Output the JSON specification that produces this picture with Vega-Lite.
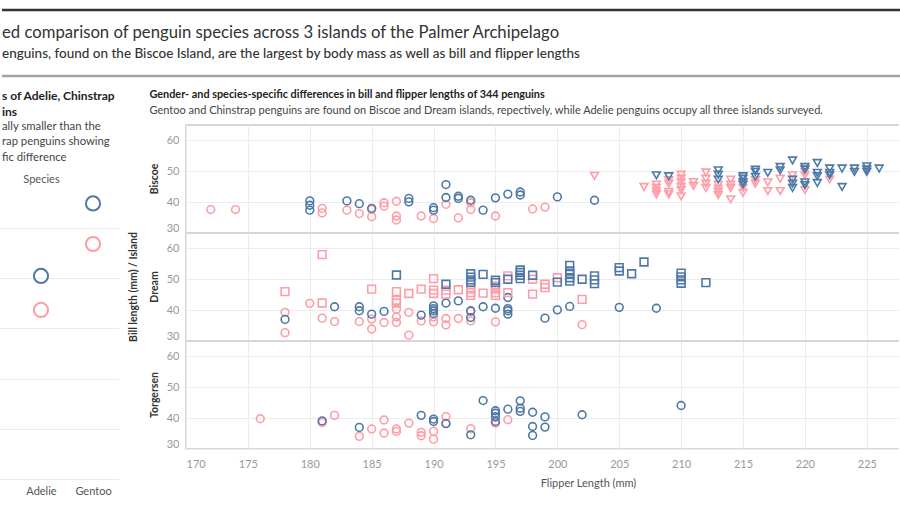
{
  "$schema": "https://vega.github.io/schema/vega-lite/v6.json",
  "background": "white",
  "padding": {"left": 0, "top": 8, "right": 0, "bottom": 0},
  "config": {
    "font": "Lato",
    "view": {"stroke": null},
    "title": {"font": "Lato", "subtitleFont": "Lato"},
    "axis": {"labelFont": "Lato", "titleFont": "Lato"},
    "header": {"labelFont": "Lato", "titleFont": "Lato"}
  },
  "resolve": {"scale": {"color": "independent"}},
  "datasets": {
    "frame": [{"line": "upper rule"}, {"line": "lower rule"}],
    "bodymass": [
      {"species": "Adelie", "sex": "female", "body_mass": 3367},
      {"species": "Adelie", "sex": "male", "body_mass": 4044},
      {"species": "Chinstrap", "sex": "female", "body_mass": 3527},
      {"species": "Chinstrap", "sex": "male", "body_mass": 3939},
      {"species": "Gentoo", "sex": "female", "body_mass": 4681},
      {"species": "Gentoo", "sex": "male", "body_mass": 5488}
    ],
    "penguins": [
      {"island":"Biscoe","species":"Adelie","sex":"female","flipper":172,"bill":37.6},
      {"island":"Biscoe","species":"Adelie","sex":"female","flipper":174,"bill":37.6},
      {"island":"Biscoe","species":"Adelie","sex":"female","flipper":181,"bill":38.0},
      {"island":"Biscoe","species":"Adelie","sex":"female","flipper":181,"bill":36.5},
      {"island":"Biscoe","species":"Adelie","sex":"female","flipper":183,"bill":37.4},
      {"island":"Biscoe","species":"Adelie","sex":"female","flipper":184,"bill":36.3},
      {"island":"Biscoe","species":"Adelie","sex":"female","flipper":185,"bill":37.6},
      {"island":"Biscoe","species":"Adelie","sex":"female","flipper":185,"bill":35.3},
      {"island":"Biscoe","species":"Adelie","sex":"female","flipper":186,"bill":39.8},
      {"island":"Biscoe","species":"Adelie","sex":"female","flipper":186,"bill":38.7},
      {"island":"Biscoe","species":"Adelie","sex":"female","flipper":187,"bill":40.3},
      {"island":"Biscoe","species":"Adelie","sex":"female","flipper":187,"bill":35.5},
      {"island":"Biscoe","species":"Adelie","sex":"female","flipper":187,"bill":34.2},
      {"island":"Biscoe","species":"Adelie","sex":"female","flipper":189,"bill":35.5},
      {"island":"Biscoe","species":"Adelie","sex":"female","flipper":190,"bill":34.7},
      {"island":"Biscoe","species":"Adelie","sex":"female","flipper":191,"bill":39.3},
      {"island":"Biscoe","species":"Adelie","sex":"female","flipper":192,"bill":34.9},
      {"island":"Biscoe","species":"Adelie","sex":"female","flipper":193,"bill":39.8},
      {"island":"Biscoe","species":"Adelie","sex":"female","flipper":193,"bill":37.6},
      {"island":"Biscoe","species":"Adelie","sex":"female","flipper":195,"bill":35.5},
      {"island":"Biscoe","species":"Adelie","sex":"female","flipper":198,"bill":37.8},
      {"island":"Biscoe","species":"Adelie","sex":"female","flipper":199,"bill":38.4},
      {"island":"Biscoe","species":"Adelie","sex":"male","flipper":180,"bill":40.4},
      {"island":"Biscoe","species":"Adelie","sex":"male","flipper":180,"bill":39.0},
      {"island":"Biscoe","species":"Adelie","sex":"male","flipper":180,"bill":37.4},
      {"island":"Biscoe","species":"Adelie","sex":"male","flipper":183,"bill":40.4},
      {"island":"Biscoe","species":"Adelie","sex":"male","flipper":184,"bill":39.5},
      {"island":"Biscoe","species":"Adelie","sex":"male","flipper":185,"bill":38.0},
      {"island":"Biscoe","species":"Adelie","sex":"male","flipper":188,"bill":41.2},
      {"island":"Biscoe","species":"Adelie","sex":"male","flipper":188,"bill":40.1},
      {"island":"Biscoe","species":"Adelie","sex":"male","flipper":190,"bill":38.2},
      {"island":"Biscoe","species":"Adelie","sex":"male","flipper":190,"bill":37.4},
      {"island":"Biscoe","species":"Adelie","sex":"male","flipper":191,"bill":45.7},
      {"island":"Biscoe","species":"Adelie","sex":"male","flipper":191,"bill":41.5},
      {"island":"Biscoe","species":"Adelie","sex":"male","flipper":192,"bill":41.9},
      {"island":"Biscoe","species":"Adelie","sex":"male","flipper":192,"bill":41.2},
      {"island":"Biscoe","species":"Adelie","sex":"male","flipper":193,"bill":40.6},
      {"island":"Biscoe","species":"Adelie","sex":"male","flipper":194,"bill":37.4},
      {"island":"Biscoe","species":"Adelie","sex":"male","flipper":195,"bill":41.4},
      {"island":"Biscoe","species":"Adelie","sex":"male","flipper":196,"bill":42.6},
      {"island":"Biscoe","species":"Adelie","sex":"male","flipper":197,"bill":43.3},
      {"island":"Biscoe","species":"Adelie","sex":"male","flipper":197,"bill":42.3},
      {"island":"Biscoe","species":"Adelie","sex":"male","flipper":200,"bill":41.7},
      {"island":"Biscoe","species":"Adelie","sex":"male","flipper":203,"bill":40.6},
      {"island":"Biscoe","species":"Gentoo","sex":"female","flipper":203,"bill":48.5},
      {"island":"Biscoe","species":"Gentoo","sex":"female","flipper":207,"bill":44.9},
      {"island":"Biscoe","species":"Gentoo","sex":"female","flipper":208,"bill":45.7},
      {"island":"Biscoe","species":"Gentoo","sex":"female","flipper":208,"bill":44.6},
      {"island":"Biscoe","species":"Gentoo","sex":"female","flipper":208,"bill":43.5},
      {"island":"Biscoe","species":"Gentoo","sex":"female","flipper":208,"bill":42.5},
      {"island":"Biscoe","species":"Gentoo","sex":"female","flipper":209,"bill":47.1},
      {"island":"Biscoe","species":"Gentoo","sex":"female","flipper":209,"bill":46.0},
      {"island":"Biscoe","species":"Gentoo","sex":"female","flipper":209,"bill":43.3},
      {"island":"Biscoe","species":"Gentoo","sex":"female","flipper":209,"bill":42.5},
      {"island":"Biscoe","species":"Gentoo","sex":"female","flipper":210,"bill":48.9},
      {"island":"Biscoe","species":"Gentoo","sex":"female","flipper":210,"bill":47.6},
      {"island":"Biscoe","species":"Gentoo","sex":"female","flipper":210,"bill":46.4},
      {"island":"Biscoe","species":"Gentoo","sex":"female","flipper":210,"bill":44.9},
      {"island":"Biscoe","species":"Gentoo","sex":"female","flipper":210,"bill":43.9},
      {"island":"Biscoe","species":"Gentoo","sex":"female","flipper":210,"bill":41.9},
      {"island":"Biscoe","species":"Gentoo","sex":"female","flipper":211,"bill":46.5},
      {"island":"Biscoe","species":"Gentoo","sex":"female","flipper":211,"bill":45.3},
      {"island":"Biscoe","species":"Gentoo","sex":"female","flipper":212,"bill":49.6},
      {"island":"Biscoe","species":"Gentoo","sex":"female","flipper":212,"bill":47.6},
      {"island":"Biscoe","species":"Gentoo","sex":"female","flipper":212,"bill":46.0},
      {"island":"Biscoe","species":"Gentoo","sex":"female","flipper":212,"bill":44.6},
      {"island":"Biscoe","species":"Gentoo","sex":"female","flipper":213,"bill":45.7},
      {"island":"Biscoe","species":"Gentoo","sex":"female","flipper":213,"bill":44.4},
      {"island":"Biscoe","species":"Gentoo","sex":"female","flipper":213,"bill":43.3},
      {"island":"Biscoe","species":"Gentoo","sex":"female","flipper":213,"bill":42.3},
      {"island":"Biscoe","species":"Gentoo","sex":"female","flipper":214,"bill":47.3},
      {"island":"Biscoe","species":"Gentoo","sex":"female","flipper":214,"bill":45.7},
      {"island":"Biscoe","species":"Gentoo","sex":"female","flipper":214,"bill":44.6},
      {"island":"Biscoe","species":"Gentoo","sex":"female","flipper":214,"bill":40.9},
      {"island":"Biscoe","species":"Gentoo","sex":"female","flipper":215,"bill":44.6},
      {"island":"Biscoe","species":"Gentoo","sex":"female","flipper":215,"bill":43.0},
      {"island":"Biscoe","species":"Gentoo","sex":"female","flipper":216,"bill":47.1},
      {"island":"Biscoe","species":"Gentoo","sex":"female","flipper":216,"bill":46.0},
      {"island":"Biscoe","species":"Gentoo","sex":"female","flipper":217,"bill":46.4},
      {"island":"Biscoe","species":"Gentoo","sex":"female","flipper":217,"bill":43.6},
      {"island":"Biscoe","species":"Gentoo","sex":"female","flipper":218,"bill":47.6},
      {"island":"Biscoe","species":"Gentoo","sex":"female","flipper":218,"bill":43.6},
      {"island":"Biscoe","species":"Gentoo","sex":"female","flipper":219,"bill":48.7},
      {"island":"Biscoe","species":"Gentoo","sex":"female","flipper":220,"bill":49.8},
      {"island":"Biscoe","species":"Gentoo","sex":"female","flipper":220,"bill":48.7},
      {"island":"Biscoe","species":"Gentoo","sex":"female","flipper":220,"bill":43.9},
      {"island":"Biscoe","species":"Gentoo","sex":"female","flipper":222,"bill":47.3},
      {"island":"Biscoe","species":"Gentoo","sex":"male","flipper":208,"bill":48.7},
      {"island":"Biscoe","species":"Gentoo","sex":"male","flipper":209,"bill":48.4},
      {"island":"Biscoe","species":"Gentoo","sex":"male","flipper":213,"bill":50.3},
      {"island":"Biscoe","species":"Gentoo","sex":"male","flipper":213,"bill":48.9},
      {"island":"Biscoe","species":"Gentoo","sex":"male","flipper":213,"bill":47.3},
      {"island":"Biscoe","species":"Gentoo","sex":"male","flipper":215,"bill":48.4},
      {"island":"Biscoe","species":"Gentoo","sex":"male","flipper":215,"bill":47.6},
      {"island":"Biscoe","species":"Gentoo","sex":"male","flipper":215,"bill":46.5},
      {"island":"Biscoe","species":"Gentoo","sex":"male","flipper":215,"bill":45.7},
      {"island":"Biscoe","species":"Gentoo","sex":"male","flipper":216,"bill":50.5},
      {"island":"Biscoe","species":"Gentoo","sex":"male","flipper":216,"bill":49.8},
      {"island":"Biscoe","species":"Gentoo","sex":"male","flipper":216,"bill":48.2},
      {"island":"Biscoe","species":"Gentoo","sex":"male","flipper":217,"bill":49.5},
      {"island":"Biscoe","species":"Gentoo","sex":"male","flipper":218,"bill":51.4},
      {"island":"Biscoe","species":"Gentoo","sex":"male","flipper":218,"bill":50.3},
      {"island":"Biscoe","species":"Gentoo","sex":"male","flipper":219,"bill":53.5},
      {"island":"Biscoe","species":"Gentoo","sex":"male","flipper":219,"bill":47.3},
      {"island":"Biscoe","species":"Gentoo","sex":"male","flipper":219,"bill":46.0},
      {"island":"Biscoe","species":"Gentoo","sex":"male","flipper":219,"bill":44.6},
      {"island":"Biscoe","species":"Gentoo","sex":"male","flipper":220,"bill":51.4},
      {"island":"Biscoe","species":"Gentoo","sex":"male","flipper":220,"bill":50.6},
      {"island":"Biscoe","species":"Gentoo","sex":"male","flipper":220,"bill":46.4},
      {"island":"Biscoe","species":"Gentoo","sex":"male","flipper":220,"bill":45.5},
      {"island":"Biscoe","species":"Gentoo","sex":"male","flipper":221,"bill":52.7},
      {"island":"Biscoe","species":"Gentoo","sex":"male","flipper":221,"bill":49.5},
      {"island":"Biscoe","species":"Gentoo","sex":"male","flipper":221,"bill":48.4},
      {"island":"Biscoe","species":"Gentoo","sex":"male","flipper":221,"bill":46.2},
      {"island":"Biscoe","species":"Gentoo","sex":"male","flipper":222,"bill":50.9},
      {"island":"Biscoe","species":"Gentoo","sex":"male","flipper":222,"bill":49.5},
      {"island":"Biscoe","species":"Gentoo","sex":"male","flipper":222,"bill":48.7},
      {"island":"Biscoe","species":"Gentoo","sex":"male","flipper":223,"bill":50.9},
      {"island":"Biscoe","species":"Gentoo","sex":"male","flipper":223,"bill":44.9},
      {"island":"Biscoe","species":"Gentoo","sex":"male","flipper":224,"bill":50.9},
      {"island":"Biscoe","species":"Gentoo","sex":"male","flipper":224,"bill":49.8},
      {"island":"Biscoe","species":"Gentoo","sex":"male","flipper":225,"bill":51.6},
      {"island":"Biscoe","species":"Gentoo","sex":"male","flipper":225,"bill":50.6},
      {"island":"Biscoe","species":"Gentoo","sex":"male","flipper":225,"bill":49.8},
      {"island":"Biscoe","species":"Gentoo","sex":"male","flipper":226,"bill":50.9},
      {"island":"Dream","species":"Adelie","sex":"female","flipper":178,"bill":39.3},
      {"island":"Dream","species":"Adelie","sex":"female","flipper":178,"bill":32.7},
      {"island":"Dream","species":"Adelie","sex":"female","flipper":180,"bill":42.2},
      {"island":"Dream","species":"Adelie","sex":"female","flipper":181,"bill":37.4},
      {"island":"Dream","species":"Adelie","sex":"female","flipper":182,"bill":36.3},
      {"island":"Dream","species":"Adelie","sex":"female","flipper":184,"bill":36.3},
      {"island":"Dream","species":"Adelie","sex":"female","flipper":185,"bill":37.1},
      {"island":"Dream","species":"Adelie","sex":"female","flipper":185,"bill":33.9},
      {"island":"Dream","species":"Adelie","sex":"female","flipper":186,"bill":36.0},
      {"island":"Dream","species":"Adelie","sex":"female","flipper":187,"bill":40.3},
      {"island":"Dream","species":"Adelie","sex":"female","flipper":187,"bill":37.8},
      {"island":"Dream","species":"Adelie","sex":"female","flipper":187,"bill":36.0},
      {"island":"Dream","species":"Adelie","sex":"female","flipper":188,"bill":39.3},
      {"island":"Dream","species":"Adelie","sex":"female","flipper":188,"bill":31.9},
      {"island":"Dream","species":"Adelie","sex":"female","flipper":189,"bill":36.5},
      {"island":"Dream","species":"Adelie","sex":"female","flipper":190,"bill":37.8},
      {"island":"Dream","species":"Adelie","sex":"female","flipper":190,"bill":36.2},
      {"island":"Dream","species":"Adelie","sex":"female","flipper":191,"bill":37.3},
      {"island":"Dream","species":"Adelie","sex":"female","flipper":191,"bill":35.2},
      {"island":"Dream","species":"Adelie","sex":"female","flipper":192,"bill":37.3},
      {"island":"Dream","species":"Adelie","sex":"female","flipper":193,"bill":39.5},
      {"island":"Dream","species":"Adelie","sex":"female","flipper":193,"bill":36.5},
      {"island":"Dream","species":"Adelie","sex":"female","flipper":195,"bill":36.2},
      {"island":"Dream","species":"Adelie","sex":"female","flipper":202,"bill":35.3},
      {"island":"Dream","species":"Adelie","sex":"male","flipper":178,"bill":37.0},
      {"island":"Dream","species":"Adelie","sex":"male","flipper":182,"bill":41.1},
      {"island":"Dream","species":"Adelie","sex":"male","flipper":184,"bill":41.1},
      {"island":"Dream","species":"Adelie","sex":"male","flipper":184,"bill":39.8},
      {"island":"Dream","species":"Adelie","sex":"male","flipper":185,"bill":38.7},
      {"island":"Dream","species":"Adelie","sex":"male","flipper":186,"bill":39.6},
      {"island":"Dream","species":"Adelie","sex":"male","flipper":189,"bill":38.4},
      {"island":"Dream","species":"Adelie","sex":"male","flipper":190,"bill":41.4},
      {"island":"Dream","species":"Adelie","sex":"male","flipper":190,"bill":40.5},
      {"island":"Dream","species":"Adelie","sex":"male","flipper":190,"bill":39.8},
      {"island":"Dream","species":"Adelie","sex":"male","flipper":190,"bill":38.9},
      {"island":"Dream","species":"Adelie","sex":"male","flipper":191,"bill":42.3},
      {"island":"Dream","species":"Adelie","sex":"male","flipper":192,"bill":43.0},
      {"island":"Dream","species":"Adelie","sex":"male","flipper":193,"bill":39.8},
      {"island":"Dream","species":"Adelie","sex":"male","flipper":193,"bill":37.6},
      {"island":"Dream","species":"Adelie","sex":"male","flipper":194,"bill":41.1},
      {"island":"Dream","species":"Adelie","sex":"male","flipper":195,"bill":40.6},
      {"island":"Dream","species":"Adelie","sex":"male","flipper":196,"bill":44.1},
      {"island":"Dream","species":"Adelie","sex":"male","flipper":196,"bill":40.5},
      {"island":"Dream","species":"Adelie","sex":"male","flipper":196,"bill":39.8},
      {"island":"Dream","species":"Adelie","sex":"male","flipper":196,"bill":38.7},
      {"island":"Dream","species":"Adelie","sex":"male","flipper":199,"bill":37.4},
      {"island":"Dream","species":"Adelie","sex":"male","flipper":200,"bill":40.1},
      {"island":"Dream","species":"Adelie","sex":"male","flipper":201,"bill":41.2},
      {"island":"Dream","species":"Adelie","sex":"male","flipper":205,"bill":40.9},
      {"island":"Dream","species":"Adelie","sex":"male","flipper":208,"bill":40.6},
      {"island":"Dream","species":"Chinstrap","sex":"female","flipper":178,"bill":46.0},
      {"island":"Dream","species":"Chinstrap","sex":"female","flipper":181,"bill":58.0},
      {"island":"Dream","species":"Chinstrap","sex":"female","flipper":181,"bill":42.3},
      {"island":"Dream","species":"Chinstrap","sex":"female","flipper":185,"bill":46.8},
      {"island":"Dream","species":"Chinstrap","sex":"female","flipper":187,"bill":46.0},
      {"island":"Dream","species":"Chinstrap","sex":"female","flipper":187,"bill":43.2},
      {"island":"Dream","species":"Chinstrap","sex":"female","flipper":187,"bill":42.3},
      {"island":"Dream","species":"Chinstrap","sex":"female","flipper":188,"bill":45.4},
      {"island":"Dream","species":"Chinstrap","sex":"female","flipper":189,"bill":46.8},
      {"island":"Dream","species":"Chinstrap","sex":"female","flipper":190,"bill":50.2},
      {"island":"Dream","species":"Chinstrap","sex":"female","flipper":190,"bill":46.5},
      {"island":"Dream","species":"Chinstrap","sex":"female","flipper":190,"bill":45.4},
      {"island":"Dream","species":"Chinstrap","sex":"female","flipper":191,"bill":46.5},
      {"island":"Dream","species":"Chinstrap","sex":"female","flipper":191,"bill":45.2},
      {"island":"Dream","species":"Chinstrap","sex":"female","flipper":192,"bill":46.6},
      {"island":"Dream","species":"Chinstrap","sex":"female","flipper":193,"bill":46.8},
      {"island":"Dream","species":"Chinstrap","sex":"female","flipper":193,"bill":45.7},
      {"island":"Dream","species":"Chinstrap","sex":"female","flipper":193,"bill":44.8},
      {"island":"Dream","species":"Chinstrap","sex":"female","flipper":194,"bill":45.5},
      {"island":"Dream","species":"Chinstrap","sex":"female","flipper":195,"bill":47.8},
      {"island":"Dream","species":"Chinstrap","sex":"female","flipper":195,"bill":46.8},
      {"island":"Dream","species":"Chinstrap","sex":"female","flipper":195,"bill":45.7},
      {"island":"Dream","species":"Chinstrap","sex":"female","flipper":195,"bill":44.8},
      {"island":"Dream","species":"Chinstrap","sex":"female","flipper":196,"bill":51.1},
      {"island":"Dream","species":"Chinstrap","sex":"female","flipper":196,"bill":45.7},
      {"island":"Dream","species":"Chinstrap","sex":"female","flipper":198,"bill":50.0},
      {"island":"Dream","species":"Chinstrap","sex":"female","flipper":198,"bill":45.2},
      {"island":"Dream","species":"Chinstrap","sex":"female","flipper":199,"bill":48.4},
      {"island":"Dream","species":"Chinstrap","sex":"female","flipper":199,"bill":47.3},
      {"island":"Dream","species":"Chinstrap","sex":"female","flipper":200,"bill":50.5},
      {"island":"Dream","species":"Chinstrap","sex":"female","flipper":202,"bill":43.5},
      {"island":"Dream","species":"Chinstrap","sex":"male","flipper":187,"bill":51.4},
      {"island":"Dream","species":"Chinstrap","sex":"male","flipper":191,"bill":48.4},
      {"island":"Dream","species":"Chinstrap","sex":"male","flipper":193,"bill":51.8},
      {"island":"Dream","species":"Chinstrap","sex":"male","flipper":193,"bill":50.7},
      {"island":"Dream","species":"Chinstrap","sex":"male","flipper":193,"bill":49.8},
      {"island":"Dream","species":"Chinstrap","sex":"male","flipper":193,"bill":48.9},
      {"island":"Dream","species":"Chinstrap","sex":"male","flipper":194,"bill":51.6},
      {"island":"Dream","species":"Chinstrap","sex":"male","flipper":195,"bill":49.7},
      {"island":"Dream","species":"Chinstrap","sex":"male","flipper":195,"bill":48.9},
      {"island":"Dream","species":"Chinstrap","sex":"male","flipper":196,"bill":50.0},
      {"island":"Dream","species":"Chinstrap","sex":"male","flipper":197,"bill":53.0},
      {"island":"Dream","species":"Chinstrap","sex":"male","flipper":197,"bill":52.2},
      {"island":"Dream","species":"Chinstrap","sex":"male","flipper":197,"bill":51.3},
      {"island":"Dream","species":"Chinstrap","sex":"male","flipper":197,"bill":50.2},
      {"island":"Dream","species":"Chinstrap","sex":"male","flipper":198,"bill":51.3},
      {"island":"Dream","species":"Chinstrap","sex":"male","flipper":200,"bill":49.1},
      {"island":"Dream","species":"Chinstrap","sex":"male","flipper":201,"bill":54.5},
      {"island":"Dream","species":"Chinstrap","sex":"male","flipper":201,"bill":52.7},
      {"island":"Dream","species":"Chinstrap","sex":"male","flipper":201,"bill":51.6},
      {"island":"Dream","species":"Chinstrap","sex":"male","flipper":201,"bill":50.5},
      {"island":"Dream","species":"Chinstrap","sex":"male","flipper":201,"bill":49.4},
      {"island":"Dream","species":"Chinstrap","sex":"male","flipper":202,"bill":50.0},
      {"island":"Dream","species":"Chinstrap","sex":"male","flipper":203,"bill":51.1},
      {"island":"Dream","species":"Chinstrap","sex":"male","flipper":203,"bill":49.8},
      {"island":"Dream","species":"Chinstrap","sex":"male","flipper":203,"bill":48.6},
      {"island":"Dream","species":"Chinstrap","sex":"male","flipper":205,"bill":53.8},
      {"island":"Dream","species":"Chinstrap","sex":"male","flipper":205,"bill":52.7},
      {"island":"Dream","species":"Chinstrap","sex":"male","flipper":206,"bill":51.8},
      {"island":"Dream","species":"Chinstrap","sex":"male","flipper":207,"bill":55.6},
      {"island":"Dream","species":"Chinstrap","sex":"male","flipper":210,"bill":52.0},
      {"island":"Dream","species":"Chinstrap","sex":"male","flipper":210,"bill":50.8},
      {"island":"Dream","species":"Chinstrap","sex":"male","flipper":210,"bill":49.8},
      {"island":"Dream","species":"Chinstrap","sex":"male","flipper":210,"bill":48.7},
      {"island":"Dream","species":"Chinstrap","sex":"male","flipper":212,"bill":48.9},
      {"island":"Torgersen","species":"Adelie","sex":"female","flipper":176,"bill":39.8},
      {"island":"Torgersen","species":"Adelie","sex":"female","flipper":181,"bill":38.6},
      {"island":"Torgersen","species":"Adelie","sex":"female","flipper":182,"bill":40.9},
      {"island":"Torgersen","species":"Adelie","sex":"female","flipper":184,"bill":34.1},
      {"island":"Torgersen","species":"Adelie","sex":"female","flipper":185,"bill":36.5},
      {"island":"Torgersen","species":"Adelie","sex":"female","flipper":186,"bill":39.4},
      {"island":"Torgersen","species":"Adelie","sex":"female","flipper":186,"bill":35.2},
      {"island":"Torgersen","species":"Adelie","sex":"female","flipper":187,"bill":36.5},
      {"island":"Torgersen","species":"Adelie","sex":"female","flipper":187,"bill":35.7},
      {"island":"Torgersen","species":"Adelie","sex":"female","flipper":188,"bill":38.4},
      {"island":"Torgersen","species":"Adelie","sex":"female","flipper":189,"bill":35.4},
      {"island":"Torgersen","species":"Adelie","sex":"female","flipper":189,"bill":34.3},
      {"island":"Torgersen","species":"Adelie","sex":"female","flipper":190,"bill":35.7},
      {"island":"Torgersen","species":"Adelie","sex":"female","flipper":190,"bill":33.2},
      {"island":"Torgersen","species":"Adelie","sex":"female","flipper":191,"bill":40.5},
      {"island":"Torgersen","species":"Adelie","sex":"female","flipper":191,"bill":38.4},
      {"island":"Torgersen","species":"Adelie","sex":"female","flipper":193,"bill":36.6},
      {"island":"Torgersen","species":"Adelie","sex":"female","flipper":195,"bill":40.2},
      {"island":"Torgersen","species":"Adelie","sex":"female","flipper":195,"bill":38.4},
      {"island":"Torgersen","species":"Adelie","sex":"female","flipper":196,"bill":39.5},
      {"island":"Torgersen","species":"Adelie","sex":"male","flipper":181,"bill":39.1},
      {"island":"Torgersen","species":"Adelie","sex":"male","flipper":184,"bill":37.0},
      {"island":"Torgersen","species":"Adelie","sex":"male","flipper":189,"bill":40.9},
      {"island":"Torgersen","species":"Adelie","sex":"male","flipper":190,"bill":39.7},
      {"island":"Torgersen","species":"Adelie","sex":"male","flipper":190,"bill":38.9},
      {"island":"Torgersen","species":"Adelie","sex":"male","flipper":191,"bill":38.2},
      {"island":"Torgersen","species":"Adelie","sex":"male","flipper":193,"bill":34.6},
      {"island":"Torgersen","species":"Adelie","sex":"male","flipper":194,"bill":45.7},
      {"island":"Torgersen","species":"Adelie","sex":"male","flipper":195,"bill":42.4},
      {"island":"Torgersen","species":"Adelie","sex":"male","flipper":195,"bill":41.6},
      {"island":"Torgersen","species":"Adelie","sex":"male","flipper":195,"bill":40.5},
      {"island":"Torgersen","species":"Adelie","sex":"male","flipper":195,"bill":38.9},
      {"island":"Torgersen","species":"Adelie","sex":"male","flipper":196,"bill":42.9},
      {"island":"Torgersen","species":"Adelie","sex":"male","flipper":197,"bill":45.6},
      {"island":"Torgersen","species":"Adelie","sex":"male","flipper":197,"bill":43.2},
      {"island":"Torgersen","species":"Adelie","sex":"male","flipper":197,"bill":42.2},
      {"island":"Torgersen","species":"Adelie","sex":"male","flipper":198,"bill":41.9},
      {"island":"Torgersen","species":"Adelie","sex":"male","flipper":198,"bill":37.3},
      {"island":"Torgersen","species":"Adelie","sex":"male","flipper":198,"bill":34.4},
      {"island":"Torgersen","species":"Adelie","sex":"male","flipper":199,"bill":40.4},
      {"island":"Torgersen","species":"Adelie","sex":"male","flipper":199,"bill":37.1},
      {"island":"Torgersen","species":"Adelie","sex":"male","flipper":202,"bill":41.1},
      {"island":"Torgersen","species":"Adelie","sex":"male","flipper":210,"bill":44.1}
    ]
  },
  "spacing": 11,
  "vconcat": [
    {
      "width": 900,
      "height": 66,
      "data": {"name": "frame"},
      "title": {
        "text": "ed comparison of penguin species across 3 islands of the Palmer Archipelago",
        "subtitle": "enguins, found on the Biscoe Island, are the largest by body mass as well as bill and flipper lengths",
        "anchor": "start",
        "frame": "group",
        "offset": -52,
        "fontSize": 16.7,
        "fontWeight": "normal",
        "color": "#333333",
        "subtitleFontSize": 13.5,
        "subtitleFontWeight": 500,
        "subtitleColor": "#333333",
        "subtitlePadding": 6
      },
      "mark": {"type": "rule", "strokeWidth": 2.5},
      "encoding": {
        "y": {"field": "line", "type": "nominal", "scale": {"type": "point", "domain": ["upper rule", "lower rule"], "padding": 0}, "axis": null},
        "color": {"field": "line", "type": "nominal", "scale": {"domain": ["upper rule", "lower rule"], "range": ["#333333", "#a3a3a3"]}, "legend": null}
      }
    },
    {
      "spacing": -30,
      "hconcat": [
        {
          "width": 118,
          "height": 354,
          "data": {"name": "bodymass"},
          "transform": [{"filter": "datum.species != 'Chinstrap'"}],
          "title": {
            "text": ["s of Adelie, Chinstrap", "ins"],
            "subtitle": ["ally smaller than the", "rap penguins showing", "fic difference"],
            "anchor": "start",
            "frame": "group",
            "offset": -39,
            "fontSize": 12,
            "fontWeight": "bold",
            "color": "#222222",
            "lineHeight": 15.5,
            "subtitleFontSize": 11.3,
            "subtitleColor": "#444444",
            "subtitleLineHeight": 15.5,
            "subtitlePadding": 2
          },
          "mark": {"type": "point", "filled": false, "size": 200, "strokeWidth": 2, "opacity": 1, "clip": true},
          "encoding": {
            "x": {
              "field": "species", "type": "nominal",
              "scale": {"domain": ["Chinstrap", "Adelie", "Gentoo"], "range": [-39, 117]},
              "axis": {"values": ["Adelie", "Gentoo"], "labelAngle": 0, "ticks": false, "domain": false, "grid": false, "labelColor": "#555555", "labelFontSize": 11, "labelPadding": 6, "title": "Species", "titleColor": "#555555", "titleFontSize": 11, "titleFontWeight": "normal", "titleBaseline": "middle", "titleY": -300}
            },
            "y": {
              "field": "body_mass", "type": "quantitative",
              "scale": {"domain": [0, 7050], "nice": false},
              "axis": {"values": [0, 1000, 2000, 3000, 4000, 5000], "labels": false, "ticks": false, "domain": false, "grid": true, "gridColor": "#ebebeb", "title": null}
            },
            "color": {"field": "sex", "type": "nominal", "scale": {"domain": ["female", "male"], "range": ["#ff9da7", "#4e79a7"]}, "legend": null}
          }
        },
        {
          "data": {"name": "penguins"},
          "title": {
            "text": "Gender- and species-specific differences in bill and flipper lengths of 344 penguins",
            "subtitle": "Gentoo and Chinstrap penguins are found on Biscoe and Dream islands, repectively, while Adelie penguins occupy all three islands surveyed.",
            "anchor": "start",
            "dx": 21,
            "offset": 8,
            "fontSize": 10.85,
            "fontWeight": "bold",
            "color": "#222222",
            "subtitleFontSize": 11,
            "subtitleColor": "#444444",
            "subtitlePadding": 5
          },
          "facet": {
            "row": {
              "field": "island", "type": "nominal",
              "sort": ["Biscoe", "Dream", "Torgersen"],
              "title": "Bill length (mm) / Island",
              "header": {"labelAngle": -90, "labelOrient": "left", "labelFontSize": 10.5, "labelFontWeight": "bold", "labelColor": "#333333", "labelPadding": 1, "titleFontSize": 10.5, "titleFontWeight": "bold", "titleColor": "#333333", "titlePadding": 0}
            }
          },
          "bounds": "flush",
          "spacing": {"row": 0},
          "spec": {
            "width": 713,
            "height": 108,
            "view": {"stroke": "#d6d6d6", "strokeWidth": 2, "strokeDash": [713, 108, 821, 0.01]},
            "mark": {"type": "point", "filled": false, "size": 60, "strokeWidth": 1.6, "opacity": 1, "clip": true},
            "encoding": {
              "x": {
                "field": "flipper", "type": "quantitative",
                "scale": {"domain": [170, 227.6], "nice": false, "zero": false},
                "axis": {"values": [170, 175, 180, 185, 190, 195, 200, 205, 210, 215, 220, 225], "grid": true, "gridColor": "#ececec", "ticks": false, "domain": false, "labelFlush": true, "labelColor": "#999999", "labelFontSize": 11, "labelPadding": 9, "title": "Flipper Length (mm)", "titleColor": "#555555", "titleFontSize": 11, "titleFontWeight": "normal", "titlePadding": 8, "titleX": 402}
              },
              "y": {
                "field": "bill", "type": "quantitative",
                "scale": {"domain": [30, 65], "nice": false, "zero": false},
                "axis": {"values": [30, 40, 50, 60], "grid": true, "gridColor": "#ececec", "ticks": false, "domain": false, "labelFlush": true, "labelColor": "#999999", "labelFontSize": 11, "labelPadding": 7, "title": null}
              },
              "color": {"field": "sex", "type": "nominal", "scale": {"domain": ["female", "male"], "range": ["#ff9da7", "#4e79a7"]}, "legend": null},
              "shape": {"field": "species", "type": "nominal", "scale": {"domain": ["Adelie", "Chinstrap", "Gentoo"], "range": ["circle", "square", "triangle-down"]}, "legend": null}
            }
          }
        }
      ]
    }
  ]
}
